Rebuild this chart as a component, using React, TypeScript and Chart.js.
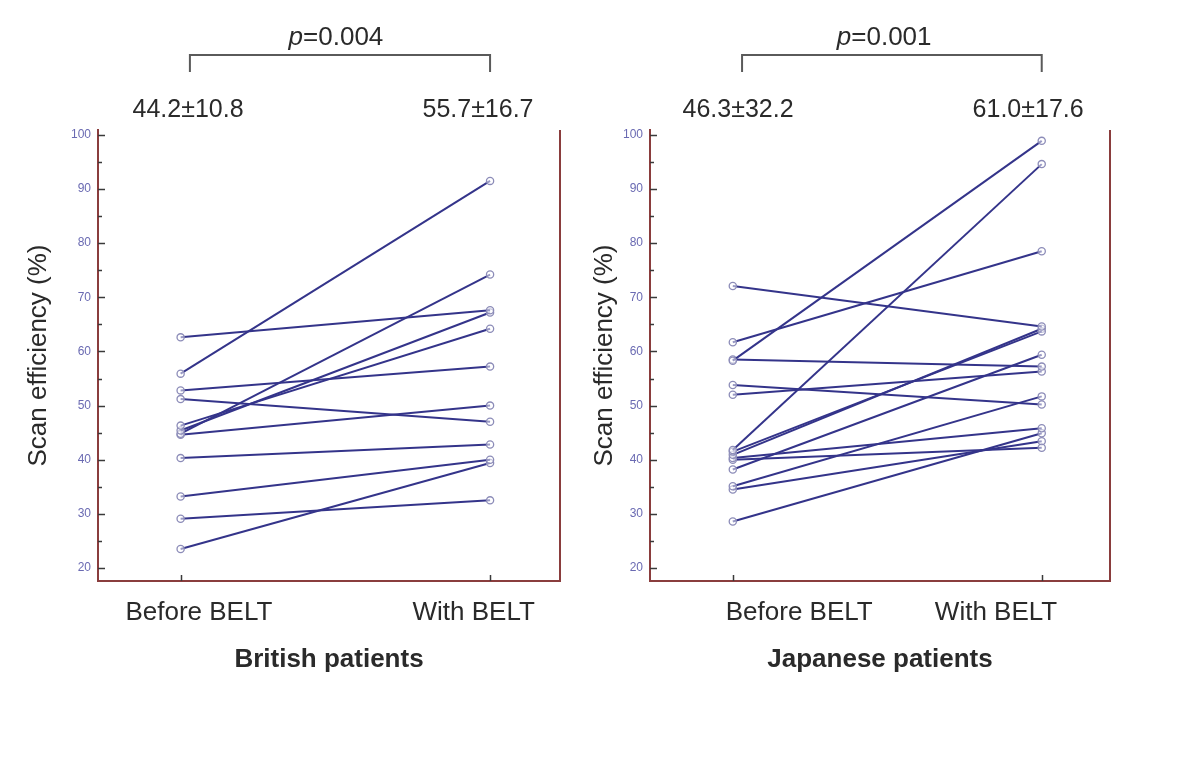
import React, { useEffect, useRef } from "react";
import { Chart, registerables } from "chart.js";

Chart.register(...registerables);

// ---------- data ----------
const xCategories = ["Before BELT", "With BELT"];
const yTickValues = [20, 30, 40, 50, 60, 70, 80, 90, 100];

const britishBefore = [62.6, 55.9, 52.8, 51.2, 46.3, 45.4, 44.8, 44.6, 40.3, 33.2, 29.1, 23.5];
const britishAfter = [67.6, 91.5, 57.2, 47.0, 64.2, 67.2, 74.2, 50.0, 42.8, 40.0, 32.5, 39.4];
const britishStats = ["44.2±10.8", "55.7±16.7"];
const britishP = "0.004";
const britishTitle = "British patients";

const japaneseBefore = [72.1, 61.7, 58.3, 58.5, 53.8, 52.0, 41.8, 41.5, 40.9, 40.3, 40.0, 38.2, 35.1, 34.5, 28.6];
const japaneseAfter = [64.6, 78.5, 98.9, 57.2, 50.2, 56.3, 94.6, 63.7, 64.2, 45.8, 42.2, 59.4, 51.7, 43.4, 44.9];
const japaneseStats = ["46.3±32.2", "61.0±17.6"];
const japaneseP = "0.001";
const japaneseTitle = "Japanese patients";

const yTitle = "Scan efficiency (%)";

// ---------- styles ----------
const FONT = "'Liberation Sans', Arial, sans-serif";
const AXIS_COLOR = "#8a3d3d";
const LINE_COLOR = "#34348a";
const POINT_COLOR = "#8c8cb8";
const TEXT_COLOR = "#2a2a2a";
const YLABEL_COLOR = "#6a6ab2";

type PanelCfg = {
  before: number[];
  after: number[];
  stats: string[];
  pVal: string;
  title: string;
  left: number;
  width: number;
  padLeft: number;
  padRight: number;
  yWidth: number;
  yTitlePad: number;
  xMin: number;
  xMax: number;
  labelPos: number[];
  statPos: number[];
  pPos: number;
  bracket: number[];
};

const decorPlugin = {
  id: "decor",
  afterDraw(chart: any, _args: any, opts: any) {
    const { ctx, chartArea: ca } = chart;
    const x = chart.scales.x;
    const y = chart.scales.y;
    ctx.save();
    // right frame line
    ctx.strokeStyle = AXIS_COLOR;
    ctx.lineWidth = 2;
    ctx.beginPath();
    ctx.moveTo(ca.right, ca.top);
    ctx.lineTo(ca.right, ca.bottom + 1);
    ctx.stroke();
    // y ticks (inward)
    ctx.strokeStyle = "#3a3a3a";
    ctx.lineWidth = 1.5;
    for (let i = 0; i < yTickValues.length; i++) {
      const py = Math.round(y.getPixelForValue(yTickValues[i])) + 0.5;
      ctx.beginPath();
      ctx.moveTo(ca.left, py);
      ctx.lineTo(ca.left + 7, py);
      ctx.stroke();
      if (i < yTickValues.length - 1) {
        const mid = (yTickValues[i] + yTickValues[i + 1]) / 2;
        const pm = Math.round(y.getPixelForValue(mid)) + 0.5;
        ctx.beginPath();
        ctx.moveTo(ca.left, pm);
        ctx.lineTo(ca.left + 4, pm);
        ctx.stroke();
      }
    }
    // x ticks (inward)
    [0, 1].forEach((v) => {
      const px = Math.round(x.getPixelForValue(v)) + 0.5;
      ctx.beginPath();
      ctx.moveTo(px, ca.bottom);
      ctx.lineTo(px, ca.bottom - 6);
      ctx.stroke();
    });
    // bracket
    const bl = x.getPixelForValue(opts.bracket[0]);
    const br = x.getPixelForValue(opts.bracket[1]);
    ctx.strokeStyle = "#5a5a5a";
    ctx.lineWidth = 2;
    ctx.beginPath();
    ctx.moveTo(bl, 72);
    ctx.lineTo(bl, 55);
    ctx.lineTo(br, 55);
    ctx.lineTo(br, 72);
    ctx.stroke();
    // p value
    ctx.fillStyle = TEXT_COLOR;
    ctx.textBaseline = "alphabetic";
    ctx.font = `italic 26px ${FONT}`;
    const wp = ctx.measureText("p").width;
    ctx.font = `26px ${FONT}`;
    const rest = "=" + opts.pVal;
    const wr = ctx.measureText(rest).width;
    const pc = x.getPixelForValue(opts.pPos);
    const startX = pc - (wp + wr) / 2;
    ctx.textAlign = "left";
    ctx.font = `italic 26px ${FONT}`;
    ctx.fillText("p", startX, 45);
    ctx.font = `26px ${FONT}`;
    ctx.fillText(rest, startX + wp, 45);
    // stats
    ctx.textAlign = "center";
    ctx.font = `25px ${FONT}`;
    opts.stats.forEach((s: string, i: number) => {
      ctx.fillText(s, x.getPixelForValue(opts.statPos[i]), 117);
    });
    ctx.restore();
  },
};

function Panel({ cfg }: { cfg: PanelCfg }) {
  const ref = useRef<HTMLCanvasElement>(null);
  useEffect(() => {
    if (!ref.current) return;
    const datasets = cfg.before.map((b, i) => ({
      data: [
        { x: 0, y: b },
        { x: 1, y: cfg.after[i] },
      ],
      showLine: true,
      borderColor: LINE_COLOR,
      borderWidth: 2,
      pointRadius: 3.6,
      pointBorderWidth: 1.3,
      pointBorderColor: POINT_COLOR,
      pointBackgroundColor: "rgba(255,255,255,0.5)",
    }));
    const chart = new Chart(ref.current, {
      type: "scatter",
      data: { datasets },
      plugins: [decorPlugin],
      options: {
        animation: false,
        responsive: false,
        layout: { padding: { left: cfg.padLeft, right: cfg.padRight, top: 130, bottom: 90 } },
        plugins: {
          legend: { display: false },
          tooltip: { enabled: false },
          decor: { stats: cfg.stats, pVal: cfg.pVal, statPos: cfg.statPos, pPos: cfg.pPos, bracket: cfg.bracket },
        } as any,
        scales: {
          x: {
            type: "linear",
            min: cfg.xMin,
            max: cfg.xMax,
            afterFit: (s: any) => {
              s.height = 100;
            },
            afterBuildTicks: (s: any) => {
              s.ticks = cfg.labelPos.map((v) => ({ value: v }));
            },
            grid: { display: true, drawOnChartArea: false, drawTicks: false, color: "rgba(0,0,0,0)" },
            border: { display: true, color: AXIS_COLOR, width: 2 },
            ticks: {
              padding: 16,
              maxRotation: 0,
              autoSkip: false,
              color: TEXT_COLOR,
              font: { family: FONT, size: 26 },
              callback: (_v: any, i: number) => xCategories[i],
            },
            title: {
              display: true,
              text: cfg.title,
              color: TEXT_COLOR,
              font: { family: FONT, size: 26, weight: "bold" },
              padding: { top: 0, bottom: 6 },
            },
          },
          y: {
            type: "linear",
            min: 17.6,
            max: 100.9,
            afterFit: (s: any) => {
              s.width = cfg.yWidth;
            },
            afterBuildTicks: (s: any) => {
              s.ticks = yTickValues.map((v) => ({ value: v }));
            },
            grid: { display: true, drawOnChartArea: false, drawTicks: false, color: "rgba(0,0,0,0)" },
            border: { display: true, color: AXIS_COLOR, width: 2 },
            ticks: {
              padding: 7,
              color: YLABEL_COLOR,
              font: { family: FONT, size: 12 },
              callback: (v: any) => String(v),
            },
            title: {
              display: true,
              text: yTitle,
              color: TEXT_COLOR,
              font: { family: FONT, size: 26 },
              padding: { top: cfg.yTitlePad, bottom: 0 },
            },
          },
        },
      } as any,
    });
    return () => chart.destroy();
  }, [cfg]);
  return (
    <canvas
      ref={ref}
      width={cfg.width}
      height={771}
      style={{ position: "absolute", left: cfg.left, top: 0, width: cfg.width, height: 771 }}
    />
  );
}

const leftCfg: PanelCfg = {
  before: britishBefore,
  after: britishAfter,
  stats: britishStats,
  pVal: britishP,
  title: britishTitle,
  left: 0,
  width: 570,
  padLeft: 10,
  padRight: 10,
  yWidth: 88,
  yTitlePad: 13,
  xMin: -0.267,
  xMax: 1.226,
  labelPos: [0.059, 0.947],
  statPos: [0.024, 0.961],
  pPos: 0.502,
  bracket: [0.03, 1.0],
};

const rightCfg: PanelCfg = {
  before: japaneseBefore,
  after: japaneseAfter,
  stats: japaneseStats,
  pVal: japaneseP,
  title: japaneseTitle,
  left: 570,
  width: 630,
  padLeft: 5,
  padRight: 90,
  yWidth: 75,
  yTitlePad: 14,
  xMin: -0.268,
  xMax: 1.221,
  labelPos: [0.215, 0.852],
  statPos: [0.017, 0.956],
  pPos: 0.49,
  bracket: [0.03, 1.0],
};

export default function App() {
  return (
    <div style={{ position: "absolute", left: 0, top: 0, width: 1200, height: 771, background: "#fff" }}>
      <Panel cfg={leftCfg} />
      <Panel cfg={rightCfg} />
    </div>
  );
}
